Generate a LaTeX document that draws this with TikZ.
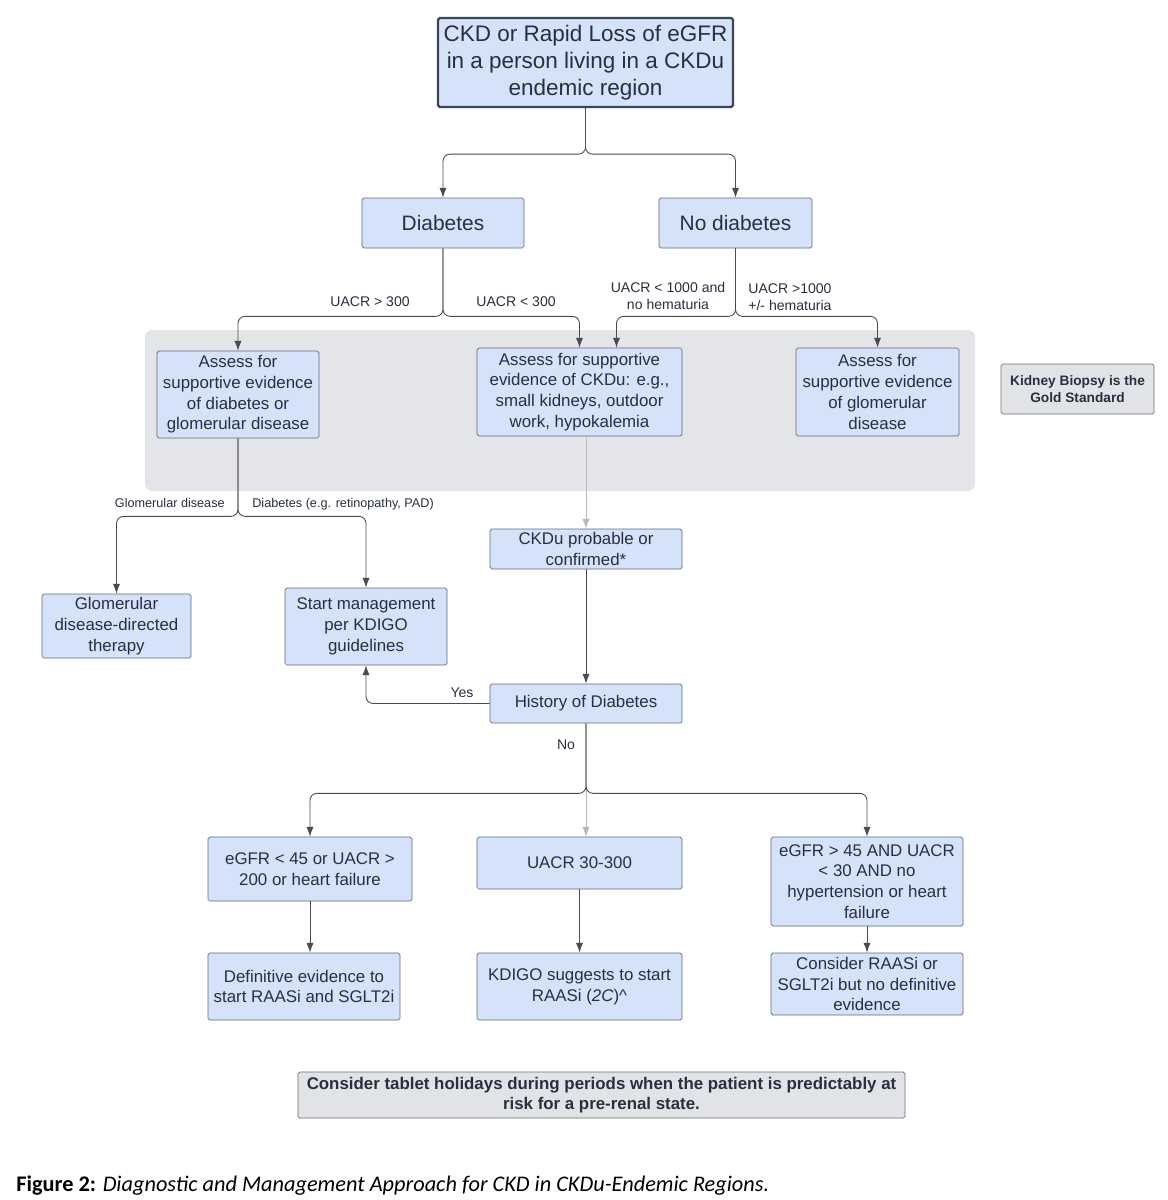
\documentclass[tikz,border=0pt]{standalone}
\usepackage{fontspec}
\setmainfont{Liberation Sans}
\newfontfamily\capfont{Carlito}
\usetikzlibrary{arrows.meta}
\definecolor{boxblue}{HTML}{D4E2FA}
\definecolor{boxline}{HTML}{5E6A7E}
\definecolor{ink}{HTML}{283040}
\definecolor{panelgray}{HTML}{E3E5E8}
\definecolor{notegray}{HTML}{E2E3E6}
\definecolor{noteline}{HTML}{6B6F76}
\definecolor{wire}{HTML}{4A4C52}
\begin{document}
\begin{tikzpicture}[x=0.02cm,y=-0.02cm,
  boxsize/.style 2 args={minimum width=#1*0.02cm,minimum height=#2*0.02cm},
  box/.style={draw=boxline,fill=boxblue,rounded corners=1pt,align=center,text=ink,inner sep=1pt,font=\fontsize{9.6}{11.8}\selectfont},
  note/.style={box,draw=noteline,fill=notegray,font=\fontsize{7.8}{9.4}\selectfont\bfseries},
  flow/.style={draw=wire,line width=0.5pt,rounded corners=4pt,-{Latex[length=5.5pt,width=4pt]}},
  faint/.style={flow,draw=wire!40},
  lbl/.style={text=ink,font=\fontsize{8}{9.7}\selectfont,align=center,inner sep=0pt},
  tiny/.style={lbl,font=\fontsize{7.2}{8.6}\selectfont}]
\fill[white] (0,0) rectangle (1167,1200);
\useasboundingbox (0,0) rectangle (1167,1200);

% shaded assessment band
\fill[panelgray,rounded corners=4pt] (145,330) rectangle (975,491);

% entry and first split
\node[box,boxsize={295}{89},draw=ink!90,line width=1.3pt,font=\fontsize{12.8}{15.3}\selectfont] (entry) at (585.5,62.5)
  {CKD or Rapid Loss of eGFR\\in a person living in a CKDu\\endemic region};
\node[box,boxsize={162}{50},font=\fontsize{11.9}{14}\selectfont] (diab) at (443,223) {Diabetes};
\node[box,boxsize={153}{50},font=\fontsize{11.9}{14}\selectfont] (nodiab) at (735.5,223) {No diabetes};

% assessment boxes
\node[box,boxsize={162}{87}] (assessdm) at (238,394.5)
  {Assess for\\supportive evidence\\of diabetes or\\glomerular disease};
\node[box,boxsize={205}{88}] (assessu) at (579.5,392)
  {Assess for supportive\\evidence of CKDu: e.g.,\\small kidneys, outdoor\\work, hypokalemia};
\node[box,boxsize={163}{88}] (assessgn) at (877.5,392)
  {Assess for\\supportive evidence\\of glomerular\\disease};
\node[note,boxsize={153}{50}] (biopsy) at (1077.5,389) {Kidney Biopsy is the\\Gold Standard};

% outcomes of the assessments
\node[box,boxsize={149}{64}] (gntherapy) at (116.5,626) {Glomerular\\disease-directed\\therapy};
\node[box,boxsize={162}{77}] (kdigomgmt) at (366,626.5) {Start management\\per KDIGO\\guidelines};
\node[box,boxsize={192}{40}] (ckdu) at (586,549) {CKDu probable or\\confirmed*};
\node[box,boxsize={192}{39}] (histdm) at (586,703.5) {History of Diabetes};

% treatment tiers
\node[box,boxsize={204}{64}] (egfrlow) at (310,869) {eGFR < 45 or UACR >\\200 or heart failure};
\node[box,boxsize={205}{52}] (uacrmid) at (579.5,863) {UACR 30-300};
\node[box,boxsize={192}{89}] (egfrhigh) at (867,881.5) {eGFR > 45 AND UACR\\< 30 AND no\\hypertension or heart\\failure};
\node[box,boxsize={192}{67}] (definitive) at (304,986.5) {Definitive evidence to\\start RAASi and SGLT2i};
\node[box,boxsize={205}{67}] (kdigoraas) at (579.5,986.5) {KDIGO suggests to start\\RAASi (\textit{2C})\textasciicircum};
\node[box,boxsize={192}{62}] (considerraas) at (867,984) {Consider RAASi or\\SGLT2i but no definitive\\evidence};
\node[note,boxsize={607}{46},font=\fontsize{9.6}{11.4}\selectfont\bfseries] (holidays) at (601.5,1095)
  {Consider tablet holidays during periods when the patient is predictably at\\risk for a pre-renal state.};

% connectors
\draw[flow] (entry.south) -- ++(0,46) -| (diab.north);
\draw[flow] (entry.south) -- ++(0,46) -| (nodiab.north);
\draw[flow] (diab.south) -- ++(0,68) -| (assessdm.north);
\draw[flow] (diab.south) -- ++(0,68) -| (assessu.north);
\draw[flow] (nodiab.south) -- ++(0,68) -| ([xshift=0.74cm]assessu.north);
\draw[flow] (nodiab.south) -- ++(0,68) -| (assessgn.north);
\draw[flow] (assessdm.south) -- ++(0,78) -| (gntherapy.north);
\draw[flow] (assessdm.south) -- ++(0,78) -| (kdigomgmt.north);
\draw[faint] (assessu.south -| ckdu.north) -- (ckdu.north);
\draw[flow] (ckdu.south) -- (histdm.north);
\draw[flow] (histdm.west) -| (kdigomgmt.south);
\draw[flow] (histdm.south) -- ++(0,70) -| (egfrlow.north);
\draw[faint] (histdm.south) -- (histdm.south |- uacrmid.north);
\draw[flow] (histdm.south) -- ++(0,70) -| (egfrhigh.north);
\draw[flow] (egfrlow.south) -- (egfrlow.south |- definitive.north);
\draw[flow] (uacrmid.south) -- (kdigoraas.north);
\draw[flow] (egfrhigh.south) -- (considerraas.north);

% branch labels
\node[lbl,anchor=east] at (410,302) {UACR > 300};
\node[lbl,anchor=west] at (476,302) {UACR < 300};
\node[lbl] at (668,296) {UACR < 1000 and\\no hematuria};
\node[lbl,align=left,anchor=west] at (748,297) {UACR >1000\\+/- hematuria};
\node[tiny,anchor=east] at (225,503) {Glomerular disease};
\node[tiny,anchor=west] at (252,504) {Diabetes (e.g. retinopathy, PAD)};
\node[lbl] at (462,693) {Yes};
\node[lbl] at (566,745) {No};

% caption
\node[anchor=west,inner sep=0pt,font=\capfont\fontsize{12.7}{15}\selectfont] (caption) at (16,1186)
  {\textbf{Figure 2:} \textit{Diagnostic and Management Approach for CKD in CKDu-Endemic Regions.}};
\end{tikzpicture}
\end{document}
